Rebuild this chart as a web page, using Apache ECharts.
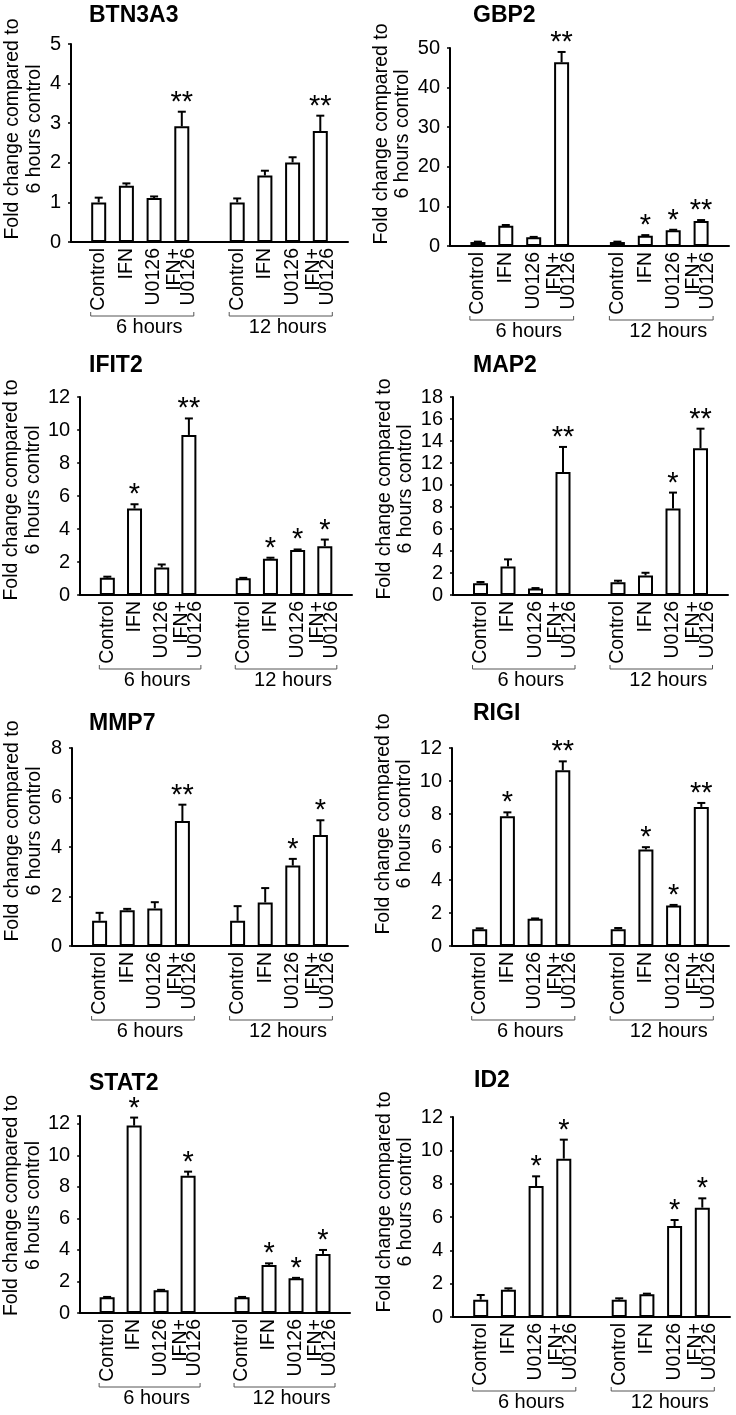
<!DOCTYPE html>
<html><head><meta charset="utf-8">
<script src="https://cdn.jsdelivr.net/npm/echarts@6/dist/echarts.min.js"></script>
<style>html,body{margin:0;padding:0;background:#fff}#c{width:736px;height:1415px}</style>
</head><body><div id="c"></div>
<script>
// ---------- data ----------
const genes = ['BTN3A3', 'GBP2', 'IFIT2', 'MAP2', 'MMP7', 'RIGI', 'STAT2', 'ID2'];
const conditions = ['Control', 'IFN', 'U0126', 'IFN+\nU0126'];
const timepoints = ['6 hours', '12 hours'];
const yAxisTitle = 'Fold change compared to\n6 hours control';
const axisMax = [5, 50, 12, 18, 8, 12, 12.5, 12];
const axisInterval = [1, 10, 2, 2, 2, 2, 2, 2];

// order: 6 h (Control, IFN, U0126, IFN+U0126), 12 h (Control, IFN, U0126, IFN+U0126)
const btn3a3Mean = [1.0, 1.42, 1.11, 2.92, 1.0, 1.68, 2.01, 2.80];
const btn3a3Err  = [0.12, 0.06, 0.04, 0.37, 0.10, 0.12, 0.13, 0.39];
const btn3a3Sig  = ['', '', '', '**', '', '', '', '**'];

const gbp2Mean = [1.0, 5.1, 2.2, 46.4, 1.0, 2.6, 4.0, 6.3];
const gbp2Err  = [0.1, 0.2, 0.1, 2.6, 0.1, 0.15, 0.1, 0.25];
const gbp2Sig  = ['', '', '', '**', '', '*', '*', '**'];

const ifit2Mean = [1.05, 5.24, 1.67, 9.70, 1.02, 2.20, 2.72, 2.96];
const ifit2Err  = [0.06, 0.26, 0.18, 1.0, 0.02, 0.06, 0.04, 0.40];
const ifit2Sig  = ['', '*', '', '**', '', '*', '*', '*'];

const map2Mean = [1.06, 2.6, 0.6, 11.19, 1.15, 1.78, 7.86, 13.34];
const map2Err  = [0.12, 0.64, 0.03, 2.27, 0.15, 0.24, 1.45, 1.78];
const map2Sig  = ['', '', '', '**', '', '', '*', '**'];

const mmp7Mean = [1.02, 1.44, 1.52, 5.05, 1.02, 1.76, 3.25, 4.48];
const mmp7Err  = [0.32, 0.06, 0.25, 0.66, 0.59, 0.58, 0.27, 0.60];
const mmp7Sig  = ['', '', '', '**', '', '', '*', '*'];

const rigiMean = [1.01, 7.86, 1.65, 10.65, 1.01, 5.85, 2.46, 8.43];
const rigiErr  = [0.06, 0.24, 0.02, 0.54, 0.08, 0.14, 0.03, 0.24];
const rigiSig  = ['', '*', '', '**', '', '*', '*', '**'];

const stat2Mean = [1.0, 11.89, 1.44, 8.71, 1.0, 3.05, 2.2, 3.75];
const stat2Err  = [0.02, 0.51, 0.03, 0.26, 0.02, 0.10, 0.03, 0.25];
const stat2Sig  = ['', '*', '', '*', '', '*', '*', '*'];

const id2Mean = [1.04, 1.64, 7.86, 9.5, 1.04, 1.36, 5.46, 6.56];
const id2Err  = [0.28, 0.08, 0.58, 1.14, 0.08, 0.04, 0.36, 0.56];
const id2Sig  = ['', '', '*', '*', '', '', '*', '*'];

const means = [btn3a3Mean, gbp2Mean, ifit2Mean, map2Mean, mmp7Mean, rigiMean, stat2Mean, id2Mean];
const errs  = [btn3a3Err, gbp2Err, ifit2Err, map2Err, mmp7Err, rigiErr, stat2Err, id2Err];
const sigs  = [btn3a3Sig, gbp2Sig, ifit2Sig, map2Sig, mmp7Sig, rigiSig, stat2Sig, id2Sig];

// ---------- layout (positions / styles only) ----------
const layouts = [
  {left: 71,  top: 44,   width: 277, height: 198, titleX: 89,  titleY: 4,    nameX: 2,   shift: 14},
  {left: 450, top: 48,   width: 279, height: 198, titleX: 473, titleY: 4,    nameX: 378, shift: 13},
  {left: 76,  top: 397,  width: 276, height: 198, titleX: 89,  titleY: 354,  nameX: 2,   shift: 6},
  {left: 453, top: 397,  width: 275, height: 198, titleX: 473, titleY: 354,  nameX: 378, shift: 7},
  {left: 72,  top: 748,  width: 276, height: 198, titleX: 89,  titleY: 712,  nameX: 2,   shift: 16},
  {left: 452, top: 748,  width: 277, height: 198, titleX: 473, titleY: 702,  nameX: 378, shift: 23},
  {left: 76,  top: 1116, width: 274, height: 197, titleX: 89,  titleY: 1072, nameX: 2,   shift: 9},
  {left: 453, top: 1117, width: 277, height: 200, titleX: 474, titleY: 1069, nameX: 378, shift: 15}
];
const FONT = '"Liberation Sans", Arial, Helvetica, sans-serif';
const slotOf = j => (j < 4 ? j + 1 : j + 2);
const categories = [''].concat(conditions, [''], conditions, ['']);
const groupSlots = [[1, 4], [6, 9]];

const option = {
  backgroundColor: '#fff',
  animation: false,
  title: layouts.map((l, i) => ({
    text: genes[i], left: l.titleX, top: l.titleY, padding: 0,
    textStyle: {fontFamily: FONT, fontWeight: 'bold', fontSize: 23, color: '#000'}
  })),
  grid: layouts.map(l => ({left: l.left, top: l.top, width: l.width, height: l.height, containLabel: false})),
  xAxis: layouts.map((l, i) => ({
    type: 'category', gridIndex: i, data: categories, boundaryGap: false,
    axisLine: {lineStyle: {color: '#000', width: 2}},
    axisTick: {show: false},
    axisLabel: {interval: 0, rotate: 90, margin: 6, color: '#000', fontFamily: FONT, fontSize: 19.5, lineHeight: 14},
    splitLine: {show: false}
  })),
  yAxis: layouts.map((l, i) => ({
    type: 'value', gridIndex: i, min: 0, max: axisMax[i], interval: axisInterval[i],
    name: yAxisTitle, nameLocation: 'middle', nameGap: l.left - l.nameX - 43,
    nameTextStyle: {color: '#000', fontFamily: FONT, fontSize: 19.5, lineHeight: 21.5, padding: [0, 0, 0, 2 * l.shift]},
    axisLine: {show: true, lineStyle: {color: '#000', width: 2}},
    axisTick: {show: true, length: 3, lineStyle: {color: '#000', width: 1.5}},
    axisLabel: {color: '#000', fontFamily: FONT, fontSize: 20, margin: 10,
      formatter: v => (Math.abs(v / axisInterval[i] - Math.round(v / axisInterval[i])) < 1e-9 ? String(v) : '')},
    splitLine: {show: false}
  })),
  series: []
};

genes.forEach((g, i) => {
  option.series.push({
    type: 'bar', name: g + ' mean', xAxisIndex: i, yAxisIndex: i,
    barWidth: 15,
    itemStyle: {color: '#fff', borderColor: '#000', borderWidth: 2},
    data: means[i].map((v, j) => [slotOf(j), v]),
    z: 2
  });
  option.series.push({
    type: 'custom', name: g + ' error', xAxisIndex: i, yAxisIndex: i, z: 3,
    data: means[i].map((v, j) => [slotOf(j), v, errs[i][j]]),
    renderItem: function (params, api) {
      const x = api.value(0), m = api.value(1), e = api.value(2);
      const p0 = api.coord([x, m]);
      const p1 = api.coord([x, m + e]);
      const children = [
        {type: 'line', shape: {x1: p0[0], y1: p0[1], x2: p1[0], y2: p1[1]}, style: {stroke: '#000', lineWidth: 2}},
        {type: 'line', shape: {x1: p1[0] - 4, y1: p1[1], x2: p1[0] + 4, y2: p1[1]}, style: {stroke: '#000', lineWidth: 2}}
      ];
      const s = sigs[i][params.dataIndex];
      if (s) {
        children.push({type: 'text', style: {text: s, x: p1[0], y: p1[1] - 9, align: 'center', verticalAlign: 'middle',
          fontFamily: FONT, fontSize: 29, fill: '#000'}});
      }
      return {type: 'group', children: children};
    }
  });
  option.series.push({
    type: 'custom', name: g + ' groups', xAxisIndex: i, yAxisIndex: i, z: 3,
    data: groupSlots.map(s => [s[0], s[1]]),
    renderItem: function (params, api) {
      const a = api.coord([api.value(0), 0]);
      const b = api.coord([api.value(1), 0]);
      const y = a[1] + 74;
      const x1 = a[0] - 8, x2 = b[0] + 12;
      return {type: 'group', children: [
        {type: 'polyline', shape: {points: [[x1, y - 4], [x1, y], [x2, y], [x2, y - 4]]}, style: {stroke: '#555', lineWidth: 1, fill: null}},
        {type: 'text', style: {text: timepoints[params.dataIndex], x: (x1 + x2) / 2 + 7, y: y + 1, align: 'center', verticalAlign: 'top',
          fontFamily: FONT, fontSize: 20, fill: '#000'}}
      ]};
    }
  });
});

const chart = echarts.init(document.getElementById('c'), null, {renderer: 'canvas'});
chart.setOption(option);
</script>
</body></html>
